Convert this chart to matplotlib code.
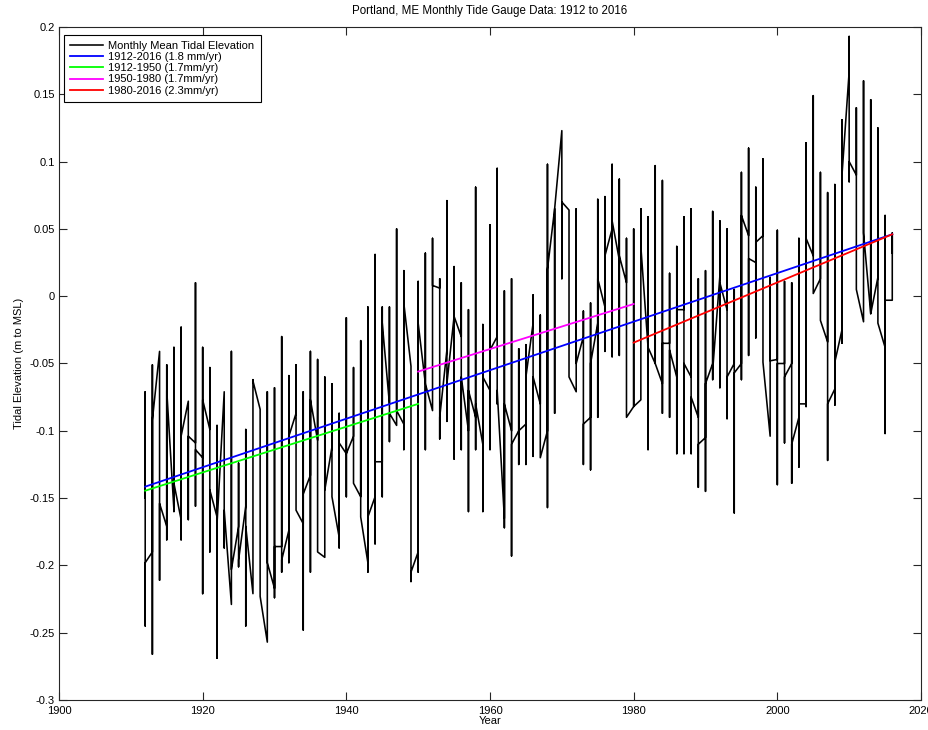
import numpy as np
import matplotlib
matplotlib.use('Agg')
import matplotlib.pyplot as plt
from matplotlib import ticker

# Portland, ME tide gauge, monthly means grouped by year (m relative to MSL).
# Each year keeps its first month, lowest month, highest month and last month.
years = list(range(1912, 2017))
first_month = [
    -0.150, -0.190, -0.041, -0.171, -0.159, -0.166, -0.078, -0.109, -0.120, -0.099,
    -0.164, -0.071, -0.229, -0.171, -0.156, -0.221, -0.084, -0.257, -0.217, -0.186,
    -0.174, -0.087, -0.169, -0.133, -0.107, -0.194, -0.112, -0.179, -0.117, -0.104,
    -0.149, -0.198, -0.149, -0.123, -0.080, -0.096, -0.095, -0.052, -0.190, -0.065,
    -0.085, 0.006, -0.040, -0.015, -0.030, -0.100, -0.090, -0.110, -0.070, -0.030,
    -0.165, -0.100, -0.100, -0.095, -0.020, -0.080, -0.100, 0.065, 0.123, 0.064,
    -0.071, -0.030, -0.090, -0.020, -0.008, 0.050, 0.027, 0.010, -0.082, -0.077,
    -0.038, -0.050, -0.065, -0.035, -0.060, -0.010, -0.060, -0.090, -0.105, -0.050,
    0.015, -0.010, -0.050, -0.050, 0.045, 0.025, 0.045, -0.104, -0.047, -0.050,
    -0.050, -0.090, -0.080, 0.030, 0.013, -0.034, -0.069, -0.025, 0.167, 0.090,
    -0.019, -0.013, 0.014, -0.038, -0.003,
]
lowest_month = [
    -0.245, -0.266, -0.211, -0.181, -0.160, -0.181, -0.166, -0.156, -0.221, -0.190,
    -0.269, -0.187, -0.229, -0.201, -0.245, -0.221, -0.223, -0.257, -0.224, -0.205,
    -0.198, -0.159, -0.248, -0.205, -0.190, -0.194, -0.149, -0.187, -0.149, -0.139,
    -0.164, -0.205, -0.184, -0.149, -0.108, -0.096, -0.114, -0.212, -0.205, -0.114,
    -0.085, -0.106, -0.093, -0.121, -0.114, -0.160, -0.114, -0.160, -0.114, -0.080,
    -0.172, -0.193, -0.125, -0.125, -0.119, -0.120, -0.157, -0.087, 0.013, -0.060,
    -0.071, -0.125, -0.129, -0.090, -0.041, -0.045, -0.044, -0.090, -0.082, -0.077,
    -0.114, -0.050, -0.087, -0.090, -0.117, -0.117, -0.117, -0.142, -0.145, -0.062,
    -0.068, -0.091, -0.161, -0.062, -0.044, -0.031, -0.049, -0.104, -0.140, -0.109,
    -0.139, -0.127, -0.082, 0.002, -0.018, -0.122, -0.081, -0.035, 0.085, 0.005,
    -0.019, -0.013, -0.020, -0.102, -0.003,
]
highest_month = [
    -0.071, -0.051, -0.041, -0.051, -0.038, -0.023, -0.078, 0.010, -0.038, -0.053,
    -0.096, -0.071, -0.041, -0.124, -0.099, -0.062, -0.084, -0.071, -0.068, -0.030,
    -0.059, -0.051, -0.071, -0.041, -0.047, -0.060, -0.065, -0.087, -0.016, -0.053,
    -0.033, -0.008, 0.031, -0.008, -0.008, 0.050, 0.019, -0.052, 0.011, 0.032,
    0.043, 0.013, 0.071, 0.022, 0.010, -0.010, 0.081, -0.021, 0.053, 0.095,
    0.004, 0.013, -0.039, -0.036, 0.001, -0.014, 0.098, 0.065, 0.123, 0.064,
    0.065, -0.011, -0.005, 0.072, 0.074, 0.098, 0.087, 0.043, 0.050, 0.065,
    0.059, 0.097, 0.086, 0.017, 0.037, 0.059, 0.065, 0.013, 0.019, 0.063,
    0.056, 0.050, 0.005, 0.092, 0.110, 0.081, 0.102, 0.014, 0.049, 0.011,
    0.010, 0.043, 0.114, 0.149, 0.092, 0.077, 0.083, 0.131, 0.193, 0.140,
    0.160, 0.146, 0.125, 0.060, 0.047,
]
last_month = [
    -0.198, -0.092, -0.154, -0.070, -0.139, -0.104, -0.104, -0.114, -0.077, -0.144,
    -0.169, -0.159, -0.203, -0.196, -0.171, -0.063, -0.223, -0.198, -0.186, -0.196,
    -0.104, -0.159, -0.147, -0.077, -0.190, -0.144, -0.149, -0.109, -0.117, -0.139,
    -0.164, -0.164, -0.123, -0.020, -0.087, -0.085, -0.005, -0.205, -0.020, -0.065,
    0.008, -0.090, -0.065, -0.015, -0.060, -0.070, -0.080, -0.060, -0.040, -0.070,
    -0.080, -0.110, -0.100, -0.060, -0.060, -0.120, 0.020, 0.065, 0.070, -0.060,
    -0.050, -0.095, -0.050, 0.013, 0.030, 0.056, 0.030, -0.090, -0.082, 0.037,
    -0.038, -0.050, -0.035, -0.040, -0.010, -0.050, -0.075, -0.110, -0.065, -0.055,
    0.010, -0.060, -0.057, 0.060, 0.028, 0.040, -0.049, -0.048, -0.050, -0.060,
    -0.110, -0.080, 0.043, 0.002, -0.018, -0.080, -0.049, 0.090, 0.100, 0.005,
    0.047, -0.013, -0.020, -0.003, 0.032,
]

# linear trends: label, colour, start/end year, start/end value
trend_labels = ['1912-2016 (1.8 mm/yr)', '1912-1950 (1.7mm/yr)',
                '1950-1980 (1.7mm/yr)', '1980-2016 (2.3mm/yr)']
trend_colors = ['#0000ff', '#00ff00', '#ff00ff', '#ff0000']
trend_years = [(1912, 2016), (1912, 1950), (1950, 1980), (1980, 2016)]
trend_values = [(-0.1415, 0.046), (-0.1445, -0.080), (-0.056, -0.0058), (-0.0345, 0.046)]

plt.rcParams['font.family'] = ['Liberation Sans', 'DejaVu Sans']

# every month of a year sits on the same x, so each year is a vertical run
xs, ys = [], []
for i, yr in enumerate(years):
    xs += [yr] * 4
    ys += [first_month[i], highest_month[i], lowest_month[i], last_month[i]]

fig = plt.figure(figsize=(9.29, 7.30), dpi=100)
ax = fig.add_axes([59 / 929, 1 - 700 / 730, 862 / 929, 673 / 730])

ax.plot(xs, ys, color='k', linewidth=1.15, label='Monthly Mean Tidal Elevation')
for lab, col, (y0, y1), (v0, v1) in zip(trend_labels, trend_colors, trend_years, trend_values):
    ax.plot([y0, y1], [v0, v1], color=col, linewidth=1.3, label=lab)

ax.set_xlim(1900, 2020)
ax.set_ylim(-0.3, 0.2)
ax.set_xticks(np.arange(1900, 2021, 20))
ax.set_yticks(np.arange(-0.3, 0.201, 0.05))
ax.yaxis.set_major_formatter(ticker.FuncFormatter(lambda v, p: '%g' % (round(v, 2) + 0.0)))
ax.tick_params(direction='in', top=True, right=True, length=6, width=0.8,
               labelsize=8, colors='#262626', labelcolor='k')
ax.tick_params(axis='x', pad=4)
ax.tick_params(axis='y', pad=3)
for s in ax.spines.values():
    s.set_linewidth(0.8)
    s.set_color('#262626')

ax.set_title('Portland, ME Monthly Tide Gauge Data: 1912 to 2016', fontsize=8.3, pad=9)
ax.set_xlabel('Year', fontsize=8, labelpad=0)
ax.set_ylabel('Tidal Elevation (m to MSL)', fontsize=8, labelpad=4)

leg = ax.legend(loc='upper left', bbox_to_anchor=(5 / 862, 1 - 8 / 673), borderaxespad=0,
                fontsize=8, fancybox=False, edgecolor='k', framealpha=1,
                labelspacing=0.1, handlelength=3.0, handletextpad=0.45, borderpad=0.55)
leg.get_frame().set_linewidth(0.8)

fig.savefig('out.png', dpi=100)
